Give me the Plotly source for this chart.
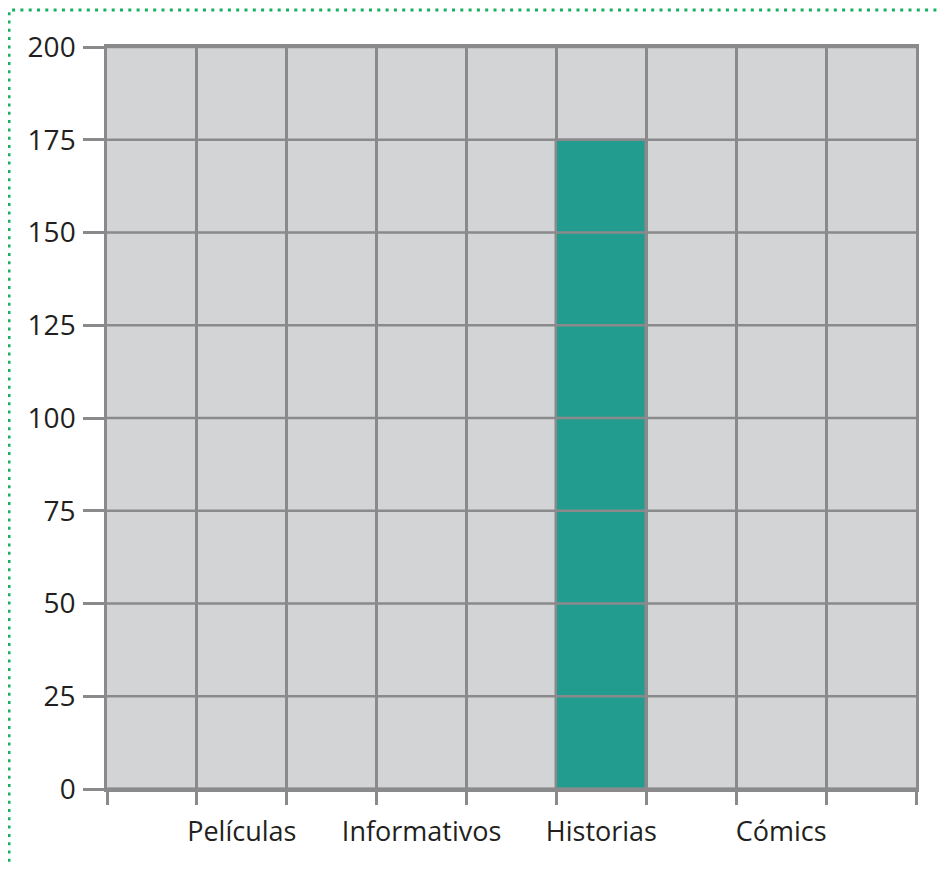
import plotly.graph_objects as go

# Data
categories = [" ", "Películas", "  ", "Informativos", "   ", "Historias", "    ", "Cómics", "     "]
values = [0, 0, 0, 0, 0, 175, 0, 0, 0]
y_ticks = [0, 25, 50, 75, 100, 125, 150, 175, 200]

GRID = "#8a8a8c"
BG = "#d3d4d6"
TEAL = "#229c8f"
TEXT = "#231f20"

OFF = 8  # default page body margin
W, H = 946 - 2 * OFF, 870 - 2 * OFF
ML, MR, MT, MB = 107 - OFF, 30 - OFF, 47 - OFF, 81 - OFF
pw = W - ML - MR
ph = H - MT - MB

fig = go.Figure()
fig.add_trace(go.Bar(
    x=categories, y=values, width=1,
    marker=dict(color=TEAL, line=dict(color=GRID, width=2.5)),
    hoverinfo="skip", showlegend=False,
))

shapes = []
for v in y_ticks:
    shapes.append(dict(type="line", xref="paper", yref="y", x0=0, x1=1, y0=v, y1=v,
                       line=dict(color=GRID, width=2.5), layer="above"))
# dotted green frame (page coords: left x=9, top y=10)
fx, fy = 9 - OFF, 10 - OFF
shapes.append(dict(type="rect", xref="paper", yref="paper",
                   x0=(fx - ML) / pw, x1=(W + 20 - ML) / pw,
                   y0=(H - MB - (H + 20)) / ph, y1=(H - MB - fy) / ph,
                   line=dict(color="#17b05e", width=3, dash="3px,5.3px")))

fig.update_layout(
    width=W, height=H,
    margin=dict(l=ML, r=MR, t=MT, b=MB, autoexpand=False),
    paper_bgcolor="white", plot_bgcolor=BG,
    font=dict(family="Open Sans", size=28, color=TEXT),
    bargap=0,
    shapes=shapes,
    xaxis=dict(
        type="category", range=[-0.5, 8.5], tickson="boundaries",
        showgrid=True, gridcolor=GRID, gridwidth=2.5,
        ticks="outside", ticklen=13, tickwidth=2.5, tickcolor=GRID,
        showline=True, linecolor=GRID, linewidth=2.5, mirror=True,
        tickfont=dict(size=27, color=TEXT), zeroline=False,
        tickangle=0, automargin=False, ticklabelstandoff=17,
    ),
    yaxis=dict(
        range=[0, 200], tickvals=y_ticks,
        showgrid=False, zeroline=False,
        ticks="outside", ticklen=21, tickwidth=2.5, tickcolor=GRID,
        showline=True, linecolor=GRID, linewidth=2.5, mirror=True,
        tickfont=dict(size=28, color=TEXT), automargin=False,
        ticklabelstandoff=2,
    ),
)

fig.write_html("out.html")
